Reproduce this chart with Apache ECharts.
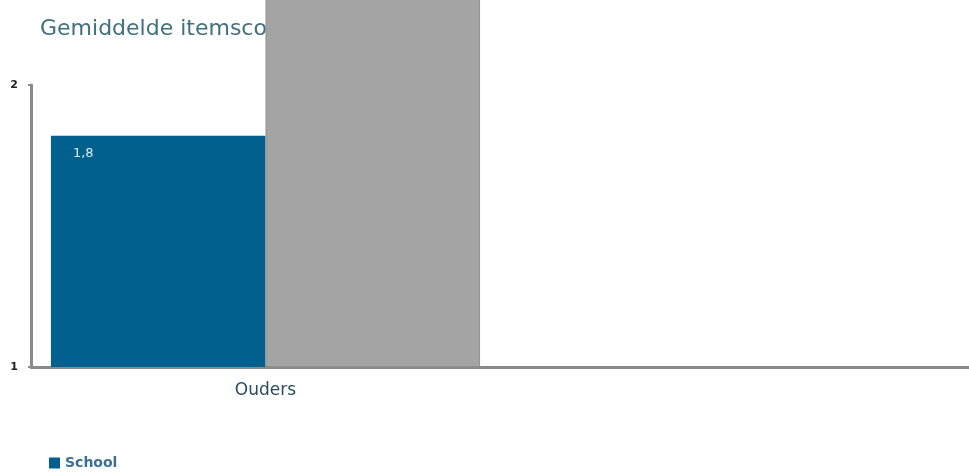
<!DOCTYPE html>
<html>
<head>
<meta charset="utf-8">
<script src="https://cdn.jsdelivr.net/npm/echarts@6/dist/echarts.min.js"></script>
<style>
html,body{margin:0;padding:0;background:#fff;}
#c{width:969px;height:475px;}
</style>
</head>
<body>
<div id="c"></div>
<script>
// Data
const categories = ['Ouders', ''];
const schoolValues = [1.82, null];
const otherValues = [2.6, null];
const yTicks = [1, 2];
const titleText = 'Gemiddelde itemscore';
const seriesNames = ['School', 'Landelijk'];

const yMin = yTicks[0];
// stacked on an invisible base so the unclipped grey bar starts at the axis minimum
const baseValues = otherValues.map(v => (v == null ? null : yMin));
const otherAboveMin = otherValues.map(v => (v == null ? null : v - yMin));

const chart = echarts.init(document.getElementById('c'));
chart.setOption({
  animation: false,
  backgroundColor: '#ffffff',
  title: {
    text: titleText,
    left: 35,
    top: 13,
    z: 0,
    textStyle: { color: '#41707f', fontSize: 22, fontWeight: 'normal', fontFamily: 'DejaVu Sans' }
  },
  legend: {
    data: [seriesNames[0]],
    left: 44,
    top: 451,
    itemWidth: 11,
    itemHeight: 11,
    itemGap: 6,
    icon: 'rect',
    textStyle: { color: '#3b6f93', fontSize: 14, fontWeight: 'bold', fontFamily: 'DejaVu Sans' }
  },
  grid: { left: 31, right: 0, top: 85, bottom: 108, containLabel: false },
  xAxis: {
    type: 'category',
    data: categories,
    axisLine: { show: true, lineStyle: { color: '#8a8a8a', width: 3 } },
    axisTick: { show: false },
    axisLabel: { color: '#2c4c5e', fontSize: 17, margin: 15, fontFamily: 'DejaVu Sans' },
    splitLine: { show: false }
  },
  yAxis: {
    type: 'value',
    min: yTicks[0],
    max: yTicks[yTicks.length - 1],
    interval: 1,
    axisLine: { show: true, lineStyle: { color: '#8a8a8a', width: 3 } },
    axisTick: { show: true, length: 3, lineStyle: { color: '#8a8a8a', width: 2 } },
    axisLabel: { color: '#222', fontSize: 11, fontWeight: 'bold', margin: 13, fontFamily: 'DejaVu Sans' },
    splitLine: { show: false }
  },
  series: [
    {
      name: seriesNames[0],
      type: 'bar',
      data: schoolValues,
      barGap: '0%',
      barCategoryGap: '8.5%',
      z: 5,
      itemStyle: { color: '#02608f' },
      label: {
        show: true,
        position: 'insideTopLeft',
        distance: 5,
        offset: [17, 6],
        color: '#dcedf6',
        fontSize: 13,
        fontFamily: 'DejaVu Sans',
        formatter: p => p.value.toFixed(1).replace('.', ',')
      }
    },
    {
      name: 'base',
      type: 'bar',
      stack: 'grey',
      data: baseValues,
      z: 1,
      silent: true,
      itemStyle: { color: 'rgba(0,0,0,0)' }
    },
    {
      name: seriesNames[1],
      type: 'bar',
      stack: 'grey',
      data: otherAboveMin,
      clip: false,
      z: 5,
      itemStyle: { color: '#a4a4a4', borderColor: '#8f8f8f', borderWidth: 1 }
    }
  ]
});
</script>
</body>
</html>
